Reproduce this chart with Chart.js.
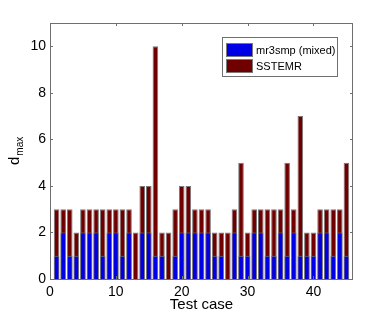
<!DOCTYPE html>
<html>
<head>
<meta charset="utf-8">
<script src="https://cdn.jsdelivr.net/npm/chart.js@4.4.1/dist/chart.umd.min.js"></script>
<style>
  html, body { margin: 0; padding: 0; background: #fff; }
  #wrap { width: 390px; height: 314px; }
</style>
</head>
<body>
<div id="wrap"><canvas id="chart" width="390" height="314"></canvas></div>
<script>
// test case numbers 1..45
const testCases = [
  1, 2, 3, 4, 5, 6, 7, 8, 9, 10, 11, 12, 13, 14, 15, 16, 17, 18, 19, 20, 21, 22, 23,
  24, 25, 26, 27, 28, 29, 30, 31, 32, 33, 34, 35, 36, 37, 38, 39, 40, 41, 42, 43, 44, 45,
];
const mr3smp = [
  1, 2, 1, 1, 2, 2, 2, 1, 2, 2, 1, 2, 0, 2, 2, 1, 1, 0, 1, 2, 2, 2, 2,
  2, 1, 1, 0, 2, 1, 1, 2, 2, 1, 1, 2, 1, 2, 1, 1, 1, 2, 2, 1, 2, 1,
];
const sstemr = [
  3, 3, 3, 2, 3, 3, 3, 3, 3, 3, 3, 3, 2, 4, 4, 10, 2, 2, 3, 4, 4, 3, 3,
  3, 2, 2, 2, 3, 5, 2, 3, 3, 3, 3, 3, 5, 3, 7, 2, 2, 3, 3, 3, 3, 5,
];
const xTicks = [0, 10, 20, 30, 40];
const yTicks = [0, 2, 4, 6, 8, 10];

const AXIS = "#6f6f6f";
const EDGE = "#7a7a7a";
const FONT = "'Liberation Sans', Arial, sans-serif";

const toPoints = (vals) => vals.map((v, i) => ({ x: testCases[i], y: v }));

// boite type MATLAB + ticks vers l'intérieur
const boxPlugin = {
  id: "box",
  afterDatasetsDraw(chart) {
    const { ctx, chartArea: a, scales } = chart;
    const { x, y } = scales;
    ctx.save();
    ctx.strokeStyle = AXIS;
    ctx.lineWidth = 1;
    ctx.strokeRect(a.left + 0.5, a.top + 0.5, a.right - a.left - 1, a.bottom - a.top);
    ctx.beginPath();
    for (const t of xTicks) {
      const px = Math.round(x.getPixelForValue(t)) + 0.5;
      ctx.moveTo(px, a.bottom); ctx.lineTo(px, a.bottom - 3);
      ctx.moveTo(px, a.top); ctx.lineTo(px, a.top + 3);
    }
    for (const t of yTicks) {
      const py = Math.round(y.getPixelForValue(t)) + 0.5;
      ctx.moveTo(a.left, py); ctx.lineTo(a.left + 3, py);
      ctx.moveTo(a.right, py); ctx.lineTo(a.right - 3, py);
    }
    ctx.stroke();

    // légende encadrée
    const lx = 222, ly = 37, lw = 115, lh = 39;
    ctx.fillStyle = "#fff";
    ctx.fillRect(lx, ly, lw, lh);
    ctx.strokeStyle = AXIS;
    ctx.strokeRect(lx + 0.5, ly + 0.5, lw, lh);
    ctx.font = "11px " + FONT;
    ctx.textBaseline = "middle";
    chart.data.datasets.forEach((ds, i) => {
      const sy = ly + 6 + i * 16;
      ctx.fillStyle = ds.backgroundColor;
      ctx.fillRect(lx + 4, sy, 27, 14);
      ctx.strokeStyle = EDGE;
      ctx.strokeRect(lx + 4.5, sy + 0.5, 26, 13);
      ctx.fillStyle = "#000";
      ctx.fillText(ds.label, lx + 34, sy + 7.5);
    });

    // titre de l'axe y : d_max
    ctx.save();
    ctx.translate(19, (a.top + a.bottom) / 2 + 14);
    ctx.rotate(-Math.PI / 2);
    ctx.fillStyle = "#000";
    ctx.textBaseline = "alphabetic";
    ctx.textAlign = "left";
    ctx.font = "15px " + FONT;
    ctx.fillText("d", 0, 0);
    const dw = ctx.measureText("d").width;
    ctx.font = "10px " + FONT;
    ctx.fillText("max", dw + 1, 4);
    ctx.restore();

    ctx.restore();
  },
};

new Chart(document.getElementById("chart"), {
  type: "bar",
  data: {
    datasets: [
      {
        label: "mr3smp (mixed)",
        data: toPoints(mr3smp),
        backgroundColor: "rgb(0, 0, 230)",
      },
      {
        label: "SSTEMR",
        data: toPoints(sstemr),
        backgroundColor: "rgb(112, 0, 0)",
      },
    ],
  },
  options: {
    responsive: false,
    animation: false,
    devicePixelRatio: 1,
    layout: { padding: { left: 0, top: 23, right: 37, bottom: 0 } },
    datasets: {
      bar: {
        grouped: false,
        categoryPercentage: 1,
        barPercentage: 0.85,
        borderWidth: 1,
        borderColor: EDGE,
        borderSkipped: "start",
      },
    },
    plugins: {
      legend: { display: false },
      tooltip: { enabled: false },
    },
    scales: {
      x: {
        type: "linear",
        offset: false,
        min: 0,
        max: 46,
        grid: { display: false, drawTicks: false, offset: false },
        border: { display: false },
        afterBuildTicks: (s) => { s.ticks = xTicks.map((v) => ({ value: v })); },
        afterFit: (s) => { s.height = 35; },
        ticks: { color: "#000", padding: 5, font: { family: FONT, size: 14 }, maxRotation: 0 },
        title: {
          display: true,
          text: "Test case",
          color: "#000",
          font: { family: FONT, size: 15 },
          padding: { top: 0, bottom: 0 },
        },
      },
      y: {
        min: 0,
        max: 11,
        grid: { display: false, drawTicks: false },
        border: { display: false },
        afterBuildTicks: (s) => { s.ticks = yTicks.map((v) => ({ value: v })); },
        afterFit: (s) => { s.width = 50; },
        ticks: { color: "#000", padding: 4, font: { family: FONT, size: 14 } },
      },
    },
  },
  plugins: [boxPlugin],
});
</script>
</body>
</html>
